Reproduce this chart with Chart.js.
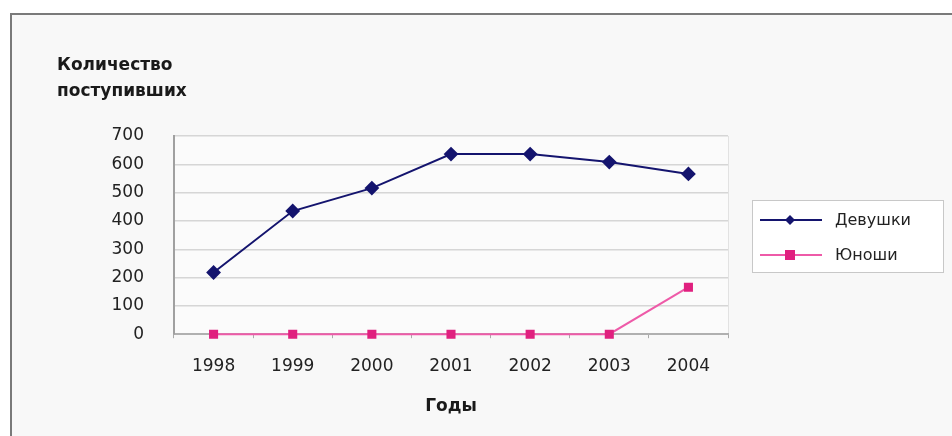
<!DOCTYPE html>
<html>
<head>
<meta charset="utf-8">
<script src="https://cdn.jsdelivr.net/npm/chart.js@4.4.1/dist/chart.umd.min.js"></script>
<style>
  body { margin: 0; background: #ffffff; }
  #frame {
    position: absolute; left: 10px; top: 13px; width: 960px; height: 440px;
    border-top: 2px solid #7a7a7a; border-left: 2px solid #7a7a7a;
    background: #f8f8f8;
  }
  #myChart { position: absolute; left: 0; top: 0; }
</style>
</head>
<body>
<div id="frame"></div>
<canvas id="myChart" width="952" height="436"></canvas>
<script>
var years = ["1998", "1999", "2000", "2001", "2002", "2003", "2004"];
var girls = [218, 435, 516, 636, 636, 608, 566];
var boys = [0, 0, 0, 0, 0, 0, 166];
var seriesNames = ["Девушки", "Юноши"];
var yTitle = ["Количество", "поступивших"];
var xTitle = "Годы";

var girlsColor = "#14146e";
var boysColor = "#e0207f";
var boysLine = "#ee5aa8";
var fontFam = "'DejaVu Sans', sans-serif";

// legend box and y title drawn by hand
var extras = {
  id: "extras",
  beforeDraw: function (chart) {
    var ctx = chart.ctx;
    var a = chart.chartArea;
    ctx.save();
    ctx.fillStyle = "#fbfbfb";
    ctx.fillRect(a.left, a.top, a.right - a.left, a.bottom - a.top);
    ctx.strokeStyle = "#e2e2e2";
    ctx.lineWidth = 1;
    ctx.beginPath();
    ctx.moveTo(a.right + 0.5, a.top);
    ctx.lineTo(a.right + 0.5, a.bottom);
    ctx.stroke();
    ctx.restore();
  },
  afterDraw: function (chart) {
    var ctx = chart.ctx;
    ctx.save();
    ctx.fillStyle = "#1a1a1a";
    ctx.font = "bold 17px " + fontFam;
    ctx.textBaseline = "middle";
    ctx.textAlign = "left";
    ctx.fillText(yTitle[0], 57, 66);
    ctx.fillText(yTitle[1], 57, 92);

    // legend
    ctx.fillStyle = "#ffffff";
    ctx.fillRect(752, 200, 191, 72);
    ctx.strokeStyle = "#c8c8c8";
    ctx.lineWidth = 1;
    ctx.strokeRect(752.5, 200.5, 191, 72);
    var rows = [220, 255];
    for (var i = 0; i < chart.data.datasets.length; i++) {
      var ds = chart.data.datasets[i];
      var y = rows[i];
      ctx.strokeStyle = ds.borderColor;
      ctx.lineWidth = 2;
      ctx.beginPath();
      ctx.moveTo(760, y);
      ctx.lineTo(822, y);
      ctx.stroke();
      ctx.fillStyle = ds.pointBackgroundColor;
      ctx.beginPath();
      if (ds.pointStyle === "rectRot") {
        ctx.moveTo(790, y - 5); ctx.lineTo(795, y); ctx.lineTo(790, y + 5); ctx.lineTo(785, y);
      } else {
        ctx.rect(785, y - 5, 10, 10);
      }
      ctx.fill();
      ctx.fillStyle = "#222";
      ctx.font = "16px " + fontFam;
      ctx.fillText(ds.label, 835, y + 1);
    }
    ctx.restore();
  }
};

new Chart("myChart", {
  type: "line",
  data: {
    labels: years,
    datasets: [
      {
        label: seriesNames[0],
        data: girls,
        borderColor: girlsColor,
        backgroundColor: girlsColor,
        pointBackgroundColor: girlsColor,
        pointBorderColor: girlsColor,
        pointStyle: "rectRot",
        pointRadius: 6,
        borderWidth: 2,
        tension: 0,
        clip: false
      },
      {
        label: seriesNames[1],
        data: boys,
        borderColor: boysLine,
        backgroundColor: boysColor,
        pointBackgroundColor: boysColor,
        pointBorderColor: boysColor,
        pointStyle: "rect",
        pointRadius: 5,
        borderWidth: 2,
        tension: 0,
        clip: false
      }
    ]
  },
  options: {
    responsive: false,
    animation: false,
    layout: { padding: { left: 0, right: 224, top: 136, bottom: 19 } },
    plugins: {
      legend: { display: false },
      tooltip: { enabled: false }
    },
    scales: {
      x: {
        offset: true,
        grid: {
          display: true,
          offset: true,
          drawOnChartArea: false,
          drawTicks: true,
          tickLength: 4,
          color: "#aaaaaa"
        },
        border: { display: true, color: "#b0b0b0", width: 2 },
        ticks: {
          color: "#222",
          font: { size: 17, family: fontFam },
          padding: 18
        },
        title: {
          display: true,
          text: xTitle,
          color: "#1a1a1a",
          font: { size: 17, weight: "bold", family: fontFam },
          padding: { top: 2, bottom: 0 }
        }
      },
      y: {
        min: 0,
        max: 700,
        afterFit: function (scale) { scale.width = 174; },
        grid: { color: "#d6d6d6", lineWidth: 1.5, drawTicks: false },
        border: { display: true, color: "#a0a0a0", width: 2 },
        ticks: {
          stepSize: 100,
          color: "#222",
          padding: 30,
          font: { size: 17, family: fontFam }
        }
      }
    }
  },
  plugins: [extras]
});
</script>
</body>
</html>
